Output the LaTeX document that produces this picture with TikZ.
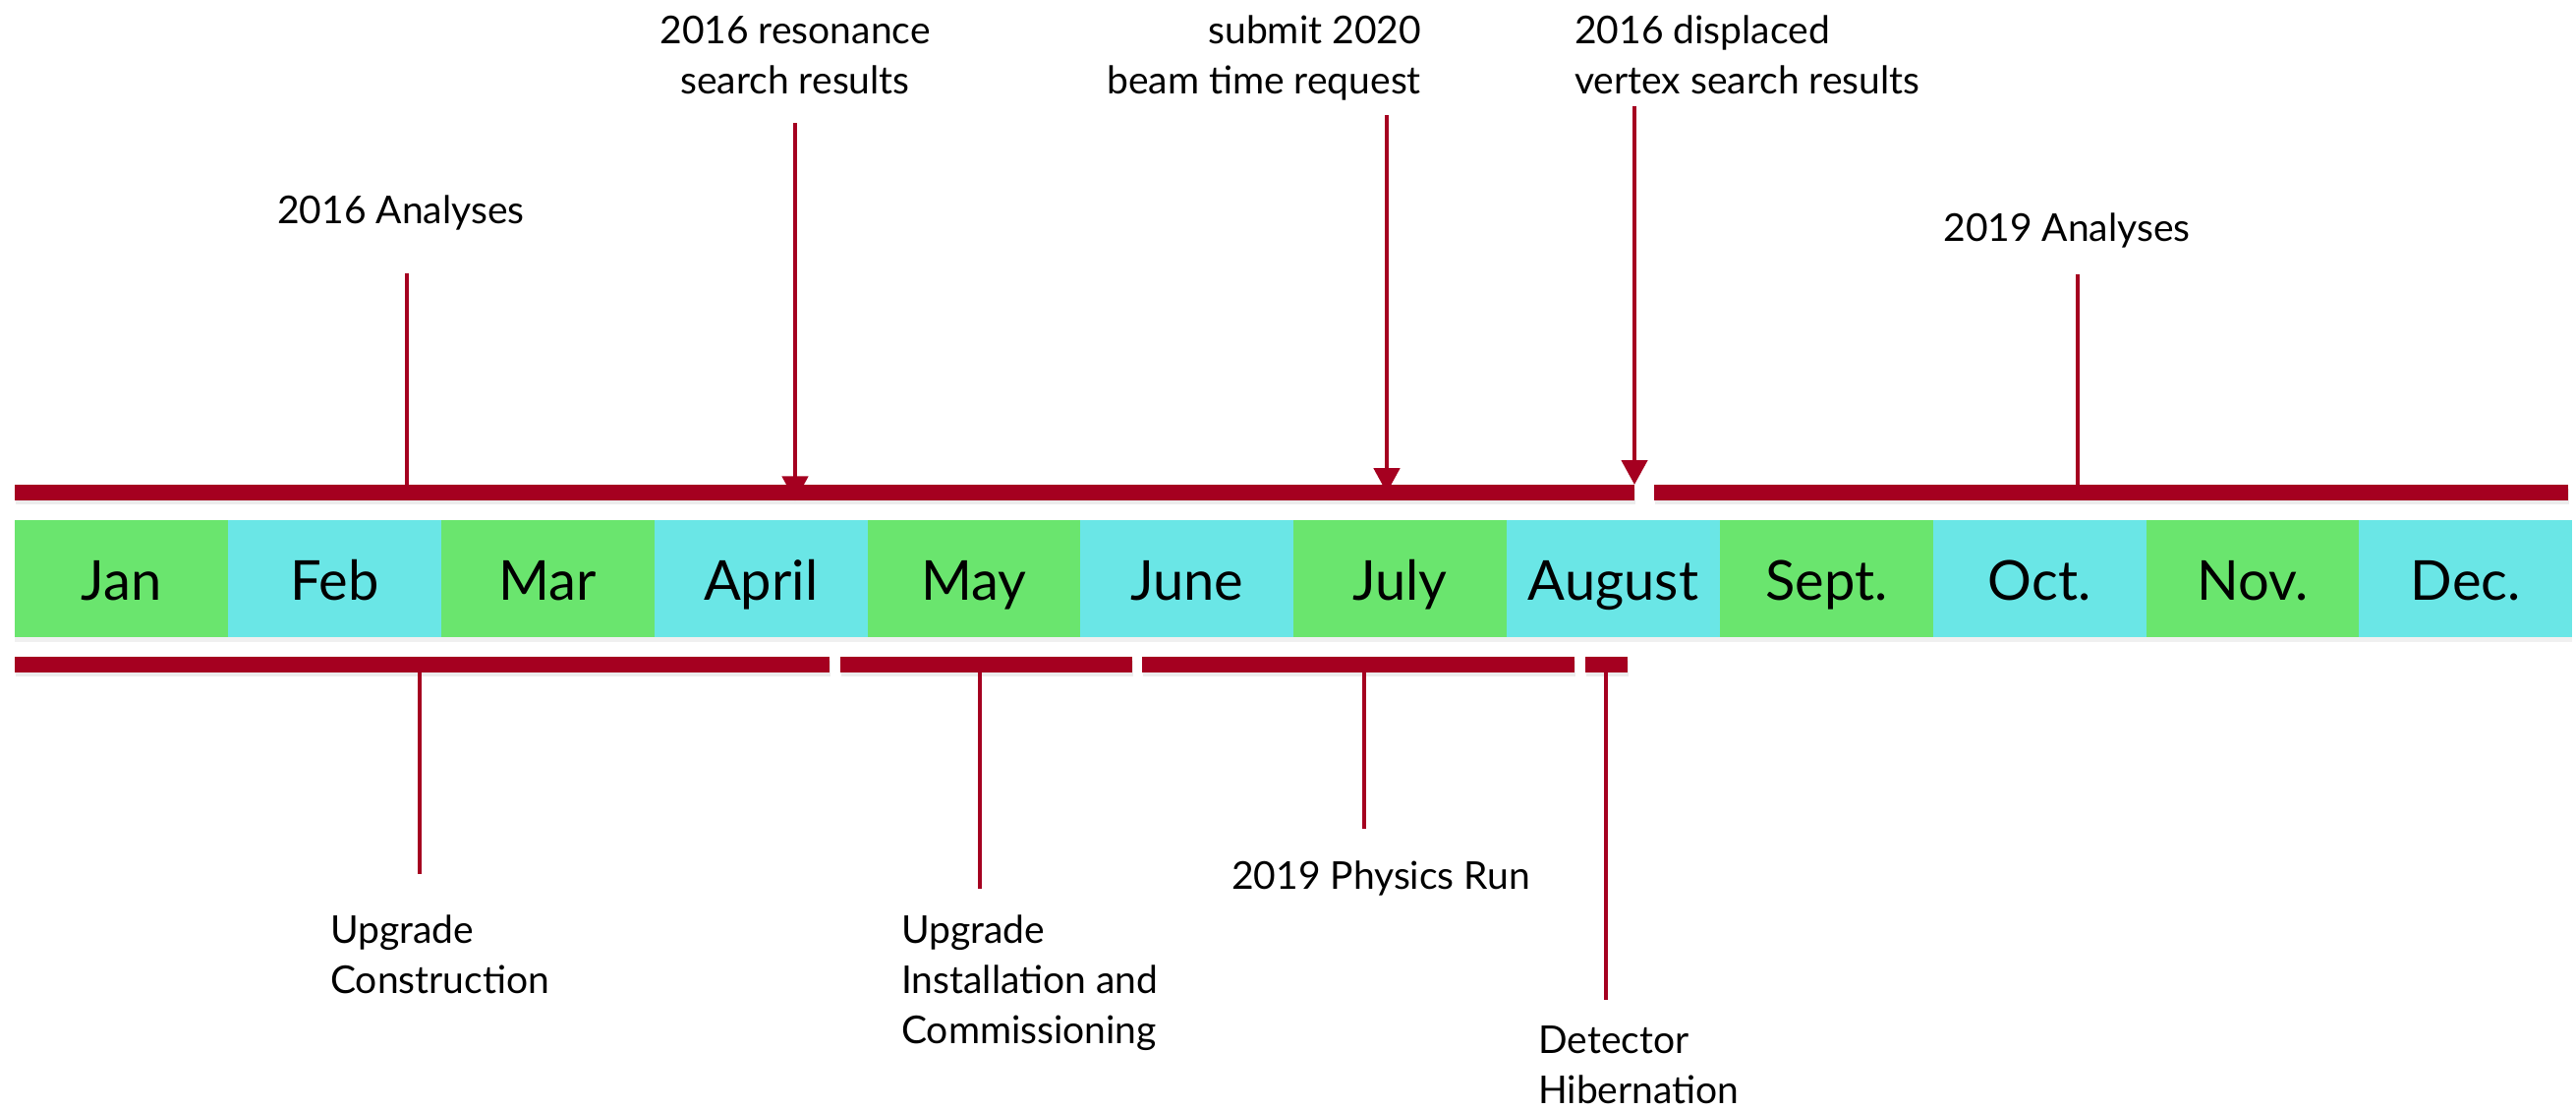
\documentclass[tikz,border=0pt]{standalone}
\usepackage{fontspec}
\setmainfont{Lato}
\usetikzlibrary{arrows.meta,shadows}
\definecolor{barred}{RGB}{165,0,32}
\definecolor{mgreen}{RGB}{106,229,110}
\definecolor{mcyan}{RGB}{106,230,230}
\begin{document}
\begin{tikzpicture}[x=1pt,y=-1pt,
  bar/.style={fill=barred, draw=none, inner sep=0pt, minimum height=16pt, anchor=north west,
    drop shadow={opacity=0.15, shadow xshift=1pt, shadow yshift=-4pt}},
  monthbox/.style={inner sep=0pt, minimum width=216.84pt, minimum height=119pt,
    text height=43pt, text depth=0pt, anchor=north west,
    font=\fontsize{56}{60}\selectfont,
    drop shadow={opacity=0.12, shadow xshift=0pt, shadow yshift=-5pt}},
  conn/.style={draw=barred, line width=4.5pt},
  arr/.style={conn, -{Triangle[width=26pt,length=25pt]}},
  lbl/.style={font=\fontsize{39}{51}\selectfont, inner sep=0pt},
]
\useasboundingbox (0,0) rectangle (2621,1128);

% month row
\node[monthbox, fill=mgreen] (m1)  at (15,529)      {Jan};
\node[monthbox, fill=mcyan]  (m2)  at (231.84,529)  {Feb};
\node[monthbox, fill=mgreen] (m3)  at (448.67,529)  {Mar};
\node[monthbox, fill=mcyan]  (m4)  at (665.5,529)   {April};
\node[monthbox, fill=mgreen] (m5)  at (882.34,529)  {May};
\node[monthbox, fill=mcyan]  (m6)  at (1099.17,529) {June};
\node[monthbox, fill=mgreen] (m7)  at (1316,529)    {July};
\node[monthbox, fill=mcyan]  (m8)  at (1532.84,529) {August};
\node[monthbox, fill=mgreen] (m9)  at (1749.67,529) {Sept.};
\node[monthbox, fill=mcyan]  (m10) at (1966.5,529)  {Oct.};
\node[monthbox, fill=mgreen] (m11) at (2183.34,529) {Nov.};
\node[monthbox, fill=mcyan]  (m12) at (2400.17,529) {Dec.};

% bars
\node[bar, minimum width=1648pt] (topL) at (15,493) {};
\node[bar, minimum width=930pt]  (topR) at (1683,493) {};
\node[bar, minimum width=829pt]  (botA) at (15,668) {};
\node[bar, minimum width=297pt]  (botB) at (855,668) {};
\node[bar, minimum width=440pt]  (botC) at (1162,668) {};
\node[bar, minimum width=43pt]   (botD) at (1613,668) {};

% labels above
\node[lbl, anchor=base] (a16) at (408,227) {2016 Analyses};
\node[lbl, anchor=north, align=center] (res) at (809,16) {2016 resonance\\search results};
\node[lbl, anchor=north east, align=right] (sub) at (1446,16) {submit 2020\\beam time request};
\node[lbl, anchor=north west, align=left] (dis) at (1602,16) {2016 displaced\\vertex search results};
\node[lbl, anchor=base] (a19) at (2103,245) {2019 Analyses};

% labels below
\node[lbl, anchor=north west, align=left] (uc) at (336,931) {Upgrade\\Construction};
\node[lbl, anchor=north west, align=left] (ui) at (917,931) {Upgrade\\Installation and\\Commissioning};
\node[lbl, anchor=base] (pr) at (1405,904) {2019 Physics Run};
\node[lbl, anchor=north west, align=left] (dh) at (1565,1043) {Detector\\Hibernation};

% connector end points
\coordinate (a16s) at (414,278);
\coordinate (resS) at (809,125);
\coordinate (subS) at (1411,117);
\coordinate (disS) at (1663,108);
\coordinate (a19s) at (2114,279);
\coordinate (ucE) at (427,889);
\coordinate (uiE) at (997,904);
\coordinate (prE) at (1388,843);
\coordinate (dhE) at (1634,1017);

% connectors above
\draw[conn] (a16s) -- (a16s |- topL.south);
\draw[arr]  (resS) -- (resS |- topL.south);
\draw[arr]  (subS) -- (subS |- topL.center);
\draw[arr]  (disS) -- (disS |- topL.north);
\draw[conn] (a19s) -- (a19s |- topR.south);

% connectors below
\draw[conn] (ucE |- botA.north) -- (ucE);
\draw[conn] (uiE |- botB.north) -- (uiE);
\draw[conn] (prE |- botC.north) -- (prE);
\draw[conn] (dhE |- botD.north) -- (dhE);
\end{tikzpicture}
\end{document}
